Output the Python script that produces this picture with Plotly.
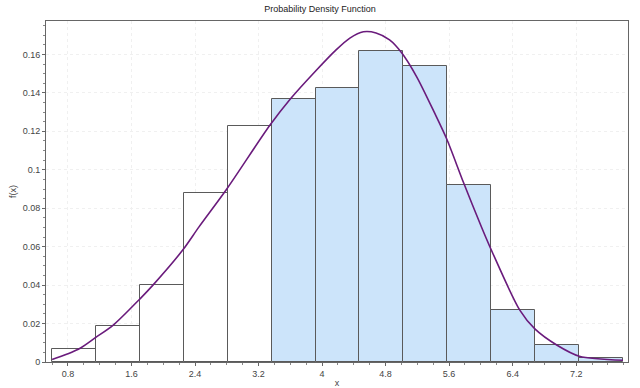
import plotly.graph_objects as go

# ---- data ----
bin_edges = [0.600, 1.153, 1.706, 2.259, 2.812, 3.365, 3.918, 4.471,
             5.024, 5.577, 6.130, 6.683, 7.236, 7.789]
bin_density = [0.0066, 0.0189, 0.0401, 0.0877, 0.1227, 0.1366, 0.1428,
               0.1616, 0.1539, 0.0921, 0.0268, 0.0091, 0.0021]
bin_shaded = [False, False, False, False, False, True, True,
              True, True, True, True, True, True]

curve_x = [0.60, 0.93, 1.15, 1.37, 1.71, 1.87, 2.25, 2.45, 2.80, 3.34, 3.60,
           3.91, 4.18, 4.35, 4.52, 4.68, 4.85, 5.00, 5.19, 5.42, 5.57, 5.78,
           6.01, 6.14, 6.49, 6.68, 6.96, 7.24, 7.79]
curve_y = [0.0013, 0.0066, 0.0128, 0.0192, 0.0330, 0.0400, 0.0585, 0.0703,
           0.0900, 0.1230, 0.1368, 0.1510, 0.1625, 0.1685, 0.1718, 0.1712,
           0.1676, 0.1610, 0.1485, 0.1293, 0.1160, 0.0935, 0.0700, 0.0575,
           0.0270, 0.0172, 0.0087, 0.0030, 0.0009]

x_tick_vals = [0.8, 1.6, 2.4, 3.2, 4.0, 4.8, 5.6, 6.4, 7.2]
x_tick_text = ["0.8", "1.6", "2.4", "3.2", "4", "4.8", "5.6", "6.4", "7.2"]
y_tick_vals = [0, 0.02, 0.04, 0.06, 0.08, 0.10, 0.12, 0.14, 0.16]
y_tick_text = ["0", "0.02", "0.04", "0.06", "0.08", "0.1", "0.12", "0.14", "0.16"]

title_text = "Probability Density Function"
x_title = "x"
y_title = "f(x)"

# ---- derived ----
centers = [(a + b) / 2 for a, b in zip(bin_edges[:-1], bin_edges[1:])]
widths = [b - a for a, b in zip(bin_edges[:-1], bin_edges[1:])]
fills = ["#cce4fa" if s else "#ffffff" for s in bin_shaded]

fig = go.Figure()
fig.add_trace(go.Bar(
    x=centers, y=bin_density, width=widths,
    marker=dict(color=fills, line=dict(color="#5a5a5a", width=1)),
    showlegend=False, hoverinfo="skip"))
fig.add_trace(go.Scatter(
    x=curve_x, y=curve_y, mode="lines",
    line=dict(color="#6a1b7c", width=1.6, shape="spline", smoothing=0.8),
    showlegend=False))

axis_font = dict(family="Liberation Sans, Arial, sans-serif", size=9, color="#444444")
fig.update_layout(
    width=640, height=388,
    margin=dict(l=46, r=12, t=21, b=26),
    paper_bgcolor="white", plot_bgcolor="white",
    bargap=0,
    title=dict(text=title_text, x=0.5, xanchor="center", xref="container",
               y=0.985, yanchor="top", automargin=False,
               font=dict(family="Liberation Sans, Arial, sans-serif", size=9, color="#222222")),
    xaxis=dict(range=[0.523, 7.853], tickvals=x_tick_vals, ticktext=x_tick_text,
               automargin=False,
               ticks="outside", ticklen=3, tickcolor="#666666",
               showline=True, linecolor="#666666", linewidth=1, mirror=True,
               showgrid=True, gridcolor="#f0f0f0", griddash="dot", zeroline=False,
               minor=dict(dtick=0.2, tick0=0.8, ticks="outside", ticklen=2,
                          tickcolor="#888888", showgrid=False),
               tickfont=axis_font,
               title=dict(text=x_title, font=axis_font, standoff=2)),
    yaxis=dict(range=[0, 0.1774], tickvals=y_tick_vals, ticktext=y_tick_text,
               automargin=False,
               ticks="outside", ticklen=3, tickcolor="#666666",
               showline=True, linecolor="#666666", linewidth=1, mirror=True,
               showgrid=True, gridcolor="#f0f0f0", griddash="dot", zeroline=False,
               minor=dict(dtick=0.005, ticks="outside", ticklen=2,
                          tickcolor="#888888", showgrid=False),
               tickfont=axis_font,
               title=dict(text=y_title, font=axis_font, standoff=4)),
)

fig.write_html("out.html", config={"displayModeBar": False},
               post_script="document.body.style.margin='0px';")
